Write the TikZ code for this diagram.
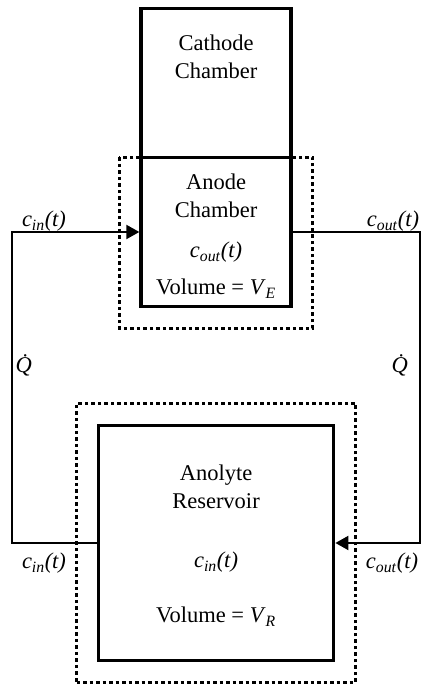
\documentclass[tikz,border=0pt]{standalone}
\usepackage{fontspec}
\setmainfont{Liberation Serif}
\usetikzlibrary{arrows.meta, positioning, calc, fit, backgrounds}

\newcommand{\concof}[1]{\textit{c}\textsubscript{\textit{#1}}\textit{(t)}}
\newcommand{\flowrate}{\textit{\.{Q}}}

\begin{document}
\begin{tikzpicture}[
  x=1pt, y=1pt,
  chamber/.style={rectangle, draw=black, line width=3.8pt,
                  minimum width=149.5pt, minimum height=149pt,
                  inner sep=0pt, outer sep=0pt},
  tank/.style={chamber, minimum width=235pt, minimum height=235pt},
  zone/.style={draw=black, line width=3pt, dash pattern=on 3.5pt off 3pt},
  txt/.style={inner sep=0pt, align=center,
              font=\fontsize{22.5}{28}\selectfont},
  lbl/.style={txt, anchor=base},
  pipe/.style={line width=2pt, black},
  feed/.style={pipe, -{Triangle[length=13pt, width=14pt]}, shorten >=1.9pt}
]
\useasboundingbox (0,0) rectangle (421,685);

% chambers
\node[chamber] (cathode) at (216,602) {};
\node[chamber, below=0pt of cathode] (anode) {};
\node[tank, below=119pt of anode] (reservoir) {};

% boundaries
\begin{scope}[on background layer]
\draw[zone] ($(anode.north west)+(-22,0)$) rectangle ($(anode.south east)+(22,-22)$);
\node[zone, fit=(reservoir), inner sep=22pt] (reszone) {};
\end{scope}

% chamber texts
\node[txt, below=26.1pt of cathode.north] (cathtxt) {Cathode\\Chamber};
\node[txt, below=16.6pt of anode.north] (anodetxt) {Anode\\Chamber};
\node[lbl] (anodeconc) at (216,427) {\concof{out}};
\node[lbl] (anodevol) at (216,390) {Volume = \textit{V}\textsubscript{\textit{E}}};
\node[txt, below=39.1pt of reservoir.north] (restxt) {Anolyte\\Reservoir};
\node[lbl] (resconc) at (216,117) {\concof{in}};
\node[lbl] (resvol) at (216,62) {Volume = \textit{V}\textsubscript{\textit{R}}};

% recirculation loop
\coordinate (lrail) at (12,0);
\coordinate (rrail) at (420,0);
\draw[feed] (reservoir.west) -- (reservoir.west -| lrail)
            -- (anode.west -| lrail) -- (anode.west);
\draw[feed] (anode.east) -- (anode.east -| rrail)
            -- (reservoir.east -| rrail) -- (reservoir.east);

% loop labels
\node[lbl] (inlbltop) at (44,458) {\concof{in}};
\node[lbl] (outlbltop) at (393,458) {\concof{out}};
\node[lbl] (qleft) at (27,312) {\flowrate};
\node[lbl] (qright) at (403,312) {\flowrate};
\node[lbl] (inlblbot) at (44,116) {\concof{in}};
\node[lbl] (outlblbot) at (392,116) {\concof{out}};
\end{tikzpicture}
\end{document}
